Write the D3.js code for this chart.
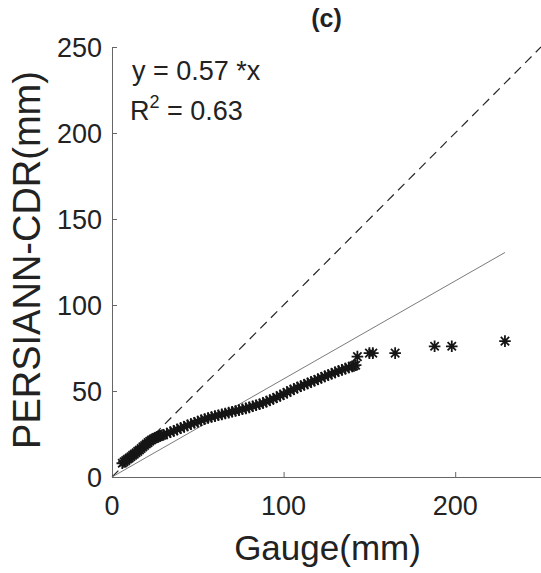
<!DOCTYPE html>
<html>
<head>
<meta charset="utf-8">
<script src="https://cdn.jsdelivr.net/npm/d3@7"></script>
<style>
  body { margin: 0; background: #fff; }
  text { font-family: "Liberation Sans", Arial, sans-serif; fill: #222; }
</style>
</head>
<body>
<div id="chart-area"></div>
<script>
// quantile pairs (Gauge vs PERSIANN-CDR, mm)
var gauge = [6,7,8,9,10,11,12,13,14,15,16,17,18,19,20,21,22,23,24,25,26,27,28,29,30,
    32,34,36,38,40,42,44,46,48,50,52,54,56,58,60,62,64,66,68,70,72,74,76,78,80,
    82,84,86,88,90,92,94,96,98,100,102,104,106,108,110,112,114,116,118,120,
    122,124,126,128,130,132,134,136,138,140,141,142,143,150,152,165,188,198,229];
var persiann = [8,8.8,9.5,10.3,11,11.8,12.6,13.3,14.1,14.9,15.7,16.6,17.5,18.3,19.2,20,20.8,21.5,22.1,22.6,23.1,23.5,23.9,24.3,24.6,
    25.3,26,26.8,27.6,28.4,29.2,30,30.8,31.5,32.2,33,33.7,34.3,34.9,35.4,35.9,36.4,36.9,37.4,37.9,38.4,38.9,39.4,39.9,40.5,
    41.1,41.7,42.3,43,43.8,44.6,45.5,46.4,47.3,48.2,49.2,50.2,51.1,52,52.8,53.6,54.4,55.2,56,56.8,
    57.7,58.5,59.3,60,60.8,61.6,62.3,63,63.7,64.3,64.6,65,70,72,72,72,76,76,79];

var slope = 0.57;
var r2 = 0.63;
var fitEnd = 229;
var xTicks = [0, 100, 200];
var yTicks = [0, 50, 100, 150, 200, 250];

var def = {
    width: 541,
    height: 573,
    left: 112,
    right: 541,
    top: 47,
    bottom: 477
};

var svg = d3.select('#chart-area').append('svg')
    .attr('width', def.width)
    .attr('height', def.height);

var x = d3.scaleLinear().domain([0, 250]).range([def.left, def.right]);
var y = d3.scaleLinear().domain([0, 250]).range([def.bottom, def.top]);

// axes, ticks pointing inward
var xAx = d3.axisTop(x).tickValues(xTicks).tickSize(5).tickFormat('');
var yAx = d3.axisRight(y).tickValues(yTicks).tickSize(5).tickFormat('');

var xg = svg.append('g').attr('transform', 'translate(0,' + def.bottom + ')').call(xAx);
var yg = svg.append('g').attr('transform', 'translate(' + def.left + ',0)').call(yAx);
[xg, yg].forEach(function(g) {
    g.selectAll('path').attr('stroke', '#666').attr('stroke-width', 1);
    g.selectAll('line').attr('stroke', '#666').attr('stroke-width', 1);
});

// tick labels
svg.selectAll('.xlab').data(xTicks).enter().append('text')
    .attr('x', function(d) { return x(d); })
    .attr('y', def.bottom + 38)
    .attr('text-anchor', 'middle')
    .attr('font-size', '27px')
    .text(function(d) { return d; });

svg.selectAll('.ylab').data(yTicks).enter().append('text')
    .attr('x', def.left - 10)
    .attr('y', function(d) { return y(d) + 10; })
    .attr('text-anchor', 'end')
    .attr('font-size', '27px')
    .text(function(d) { return d; });

// axis titles
svg.append('text')
    .attr('x', (def.left + def.right) / 2 + 1)
    .attr('y', 560)
    .attr('text-anchor', 'middle')
    .attr('font-size', '35px')
    .text('Gauge(mm)');

svg.append('text')
    .attr('transform', 'translate(40,' + ((def.top + def.bottom) / 2 - 2) + ') rotate(-90)')
    .attr('text-anchor', 'middle')
    .attr('font-size', '38px')
    .text('PERSIANN-CDR(mm)');

svg.append('text')
    .attr('x', (def.left + def.right) / 2)
    .attr('y', 27)
    .attr('text-anchor', 'middle')
    .attr('font-size', '25px')
    .attr('font-weight', 'bold')
    .text('(c)');

// 1:1 line
svg.append('line')
    .attr('x1', x(0)).attr('y1', y(0))
    .attr('x2', x(250)).attr('y2', y(250))
    .attr('stroke', '#262626')
    .attr('stroke-width', 1.2)
    .attr('stroke-dasharray', '9,6');

// regression line
svg.append('line')
    .attr('x1', x(0)).attr('y1', y(0))
    .attr('x2', x(fitEnd)).attr('y2', y(slope * fitEnd))
    .attr('stroke', '#7a7a7a')
    .attr('stroke-width', 1);

// asterisk markers
var r = 5.8, q = r * 0.72;
var star = 'M' + (-r) + ',0H' + r + 'M0,' + (-r) + 'V' + r +
    'M' + (-q) + ',' + (-q) + 'L' + q + ',' + q + 'M' + (-q) + ',' + q + 'L' + q + ',' + (-q);

var pts = gauge.map(function(g, i) { return { g: g, p: persiann[i] }; });
svg.append('g').selectAll('path').data(pts).enter().append('path')
    .attr('transform', function(d) { return 'translate(' + x(d.g) + ',' + y(d.p) + ')'; })
    .attr('d', star)
    .attr('fill', 'none')
    .attr('stroke', '#151515')
    .attr('stroke-width', 1.8);

// equation text
svg.append('text')
    .attr('x', 132).attr('y', 80)
    .attr('font-size', '27px')
    .text('y = ' + slope + ' *x');

var rt = svg.append('text')
    .attr('x', 130).attr('y', 120)
    .attr('font-size', '27px');
rt.append('tspan').text('R');
rt.append('tspan').attr('dy', -12).attr('font-size', '18px').text('2');
rt.append('tspan').attr('dy', 12).text(' = ' + r2);
</script>
</body>
</html>
